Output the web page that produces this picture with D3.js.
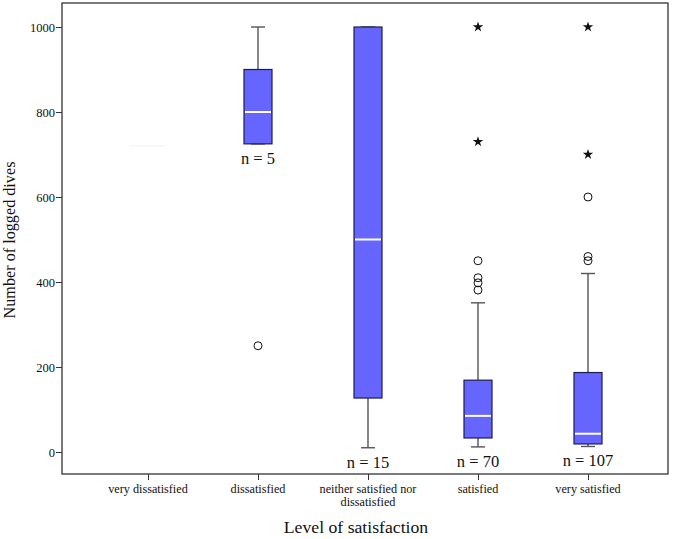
<!DOCTYPE html>
<html><head><meta charset="utf-8">
<script src="https://cdn.jsdelivr.net/npm/d3@7"></script>
<style>body{margin:0;background:#fff}</style>
</head><body>
<svg id="c" width="675" height="539"></svg>
<script>
const categories = ["very dissatisfied","dissatisfied","neither satisfied nor dissatisfied","satisfied","very satisfied"];
const catLines = [["very dissatisfied"],["dissatisfied"],["neither satisfied nor","dissatisfied"],["satisfied"],["very satisfied"]];
const counts = [1, 5, 15, 70, 107];
const whiskerLow = [720, 725, 10, 12, 13];
const q1 = [720, 725, 127, 33, 19];
const medians = [720, 800, 500, 85, 43];
const q3 = [720, 900, 1000, 169, 187];
const whiskerHigh = [720, 1000, 1000, 351, 420];
const circleOutliers = [[], [250], [], [450, 410, 398, 381], [600, 460, 450]];
const starOutliers = [[], [], [], [1000, 730], [1000, 700]];
const yTicks = [0, 200, 400, 600, 800, 1000];

const svg = d3.select("#c");
const L = 62, R = 668, T = 3, B = 474;
const font = "'Liberation Serif', 'Times New Roman', serif";

const x = d3.scalePoint().domain(categories).range([L + 86, R - 80]);
const y = d3.scaleLinear().domain([0, 1000]).range([452, 27]);
const bw = 28, cw = 14;

// frame
svg.append("rect").attr("x", L).attr("y", T).attr("width", R - L).attr("height", B - T)
  .attr("fill", "none").attr("stroke", "#222").attr("stroke-width", 1.2);

// y axis
const ya = svg.append("g").attr("transform", `translate(${L},0)`)
  .call(d3.axisLeft(y).tickValues(yTicks).tickFormat(d3.format("d")).tickSize(6).tickPadding(1));
ya.select(".domain").remove();
ya.selectAll("line").attr("stroke", "#333");
ya.selectAll("text").attr("font-family", font).attr("font-size", 12.5).attr("fill", "#111");

// x axis
const xa = svg.append("g").attr("transform", `translate(0,${B})`)
  .call(d3.axisBottom(x).tickSize(6).tickFormat(""));
xa.select(".domain").remove();
xa.selectAll("line").attr("stroke", "#333");
categories.forEach((c, i) => {
  const t = svg.append("text").attr("x", x(c)).attr("y", 493).attr("text-anchor", "middle")
    .attr("font-family", font).attr("font-size", 12.2).attr("fill", "#111");
  catLines[i].forEach((ln, j) => t.append("tspan").attr("x", x(c)).attr("dy", j ? 13 : 0).text(ln));
});

// titles
svg.append("text").attr("transform", "translate(15,240) rotate(-90)").attr("text-anchor", "middle")
  .attr("font-family", font).attr("font-size", 16.2).attr("fill", "#111").text("Number of logged dives");
svg.append("text").attr("x", 356).attr("y", 533).attr("text-anchor", "middle")
  .attr("font-family", font).attr("font-size", 17.7).attr("fill", "#111").text("Level of satisfaction");

// boxes
categories.forEach((c, i) => {
  const cx = x(c);
  const g = svg.append("g");
  if (counts[i] === 1) {
    g.append("line").attr("x1", cx - 19).attr("x2", cx + 17).attr("y1", y(medians[i])).attr("y2", y(medians[i]))
      .attr("stroke", "#f5f5f5").attr("stroke-width", 1.5);
    return;
  }
  const wc = "#555";
  g.append("line").attr("x1", cx).attr("x2", cx).attr("y1", y(q3[i])).attr("y2", y(whiskerHigh[i])).attr("stroke", wc).attr("stroke-width", 1.4);
  g.append("line").attr("x1", cx).attr("x2", cx).attr("y1", y(q1[i])).attr("y2", y(whiskerLow[i])).attr("stroke", wc).attr("stroke-width", 1.4);
  [whiskerHigh[i], whiskerLow[i]].forEach(v => {
    g.append("line").attr("x1", cx - cw / 2).attr("x2", cx + cw / 2).attr("y1", y(v)).attr("y2", y(v)).attr("stroke", wc).attr("stroke-width", 1.4);
  });
  g.append("rect").attr("x", cx - bw / 2).attr("y", y(q3[i])).attr("width", bw).attr("height", y(q1[i]) - y(q3[i]))
    .attr("fill", "#6666ff").attr("stroke", "#1c1c50").attr("stroke-width", 1.2);
  g.append("line").attr("x1", cx - bw / 2 + 1).attr("x2", cx + bw / 2 - 1).attr("y1", y(medians[i])).attr("y2", y(medians[i]))
    .attr("stroke", "#fff").attr("stroke-width", 2);
  circleOutliers[i].forEach(v => {
    g.append("circle").attr("cx", cx).attr("cy", y(v)).attr("r", 4).attr("fill", "none").attr("stroke", "#111").attr("stroke-width", 1);
  });
  starOutliers[i].forEach(v => {
    g.append("path").attr("d", d3.symbol(d3.symbolStar, 34)()).attr("transform", `translate(${cx},${y(v)})`).attr("fill", "#111");
  });
  g.append("text").attr("x", cx).attr("y", y(whiskerLow[i]) + 20).attr("text-anchor", "middle")
    .attr("font-family", font).attr("font-size", 16.5).attr("fill", "#111").text(`n = ${counts[i]}`);
});
</script>
</body></html>
